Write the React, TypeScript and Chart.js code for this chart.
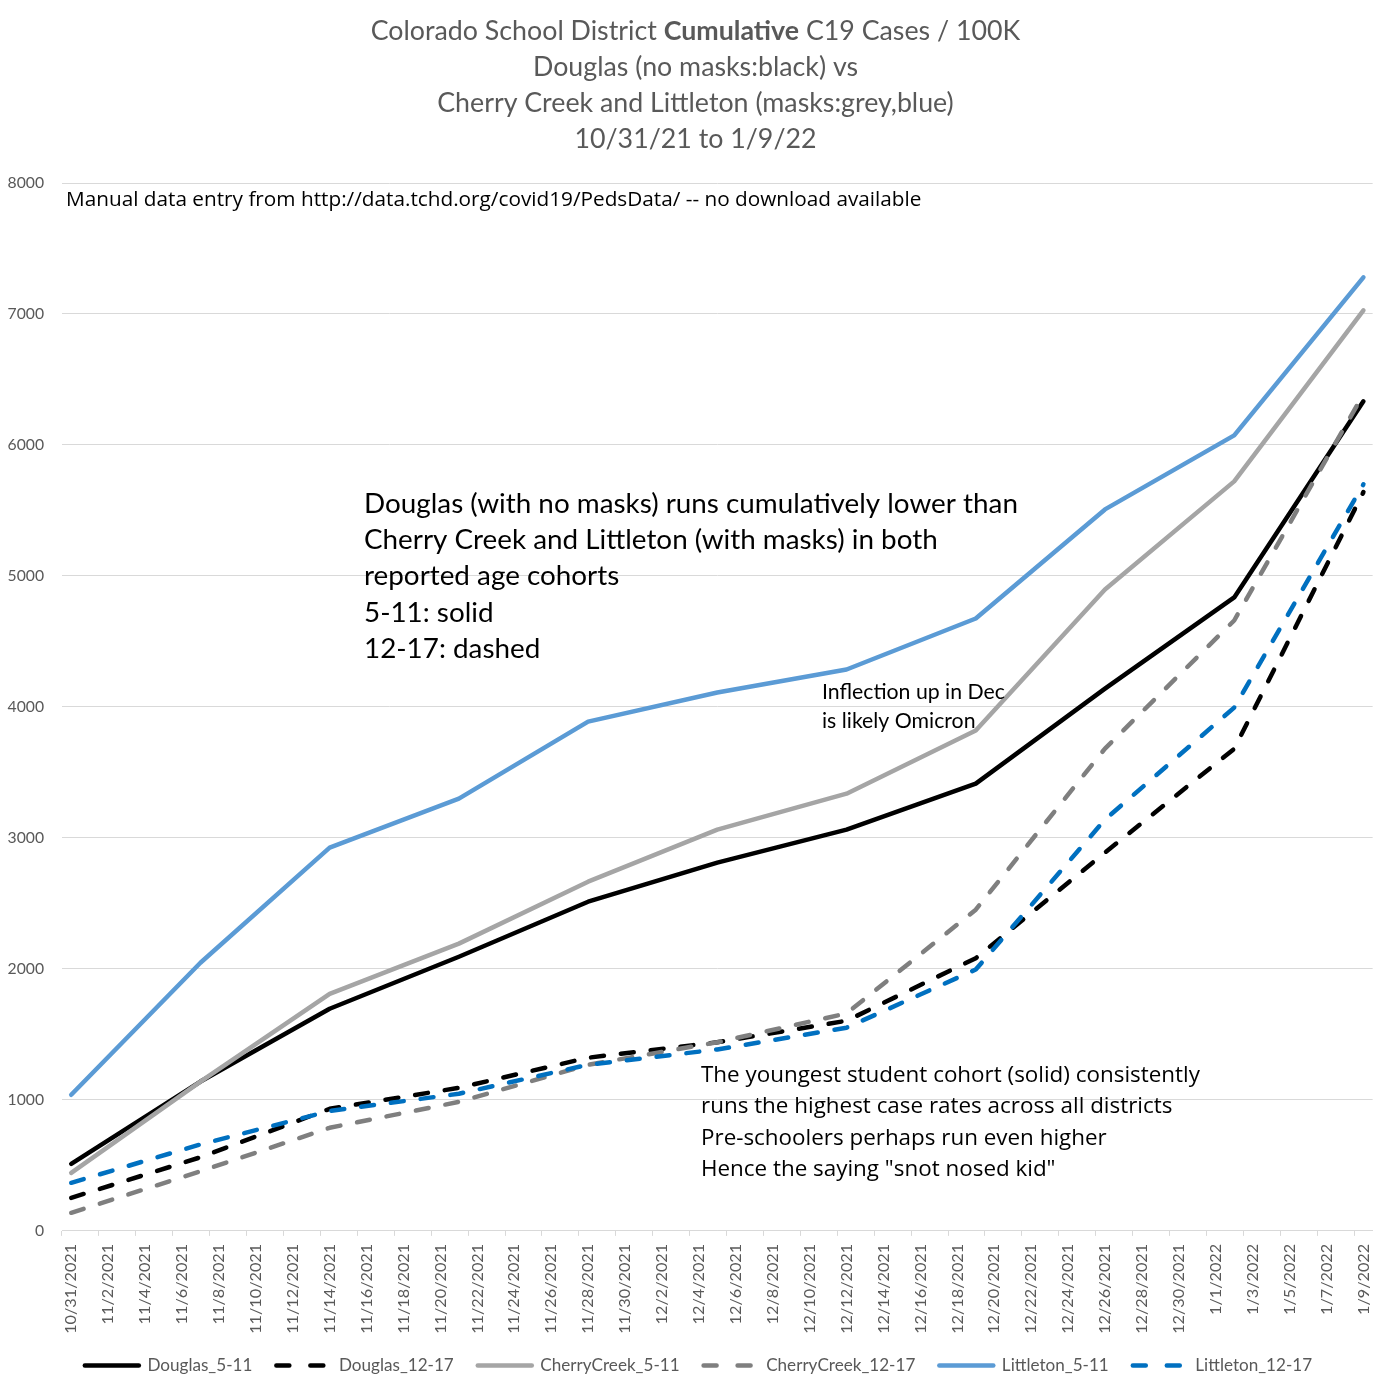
import React, { useEffect, useRef } from 'react';
import { Chart, registerables } from 'chart.js';

Chart.register(...registerables);

// ---------- DATA ----------
const dayLabels: string[] = [
  '10/31/2021',
  '11/1/2021', '11/2/2021', '11/3/2021', '11/4/2021', '11/5/2021', '11/6/2021', '11/7/2021', '11/8/2021', '11/9/2021', '11/10/2021',
  '11/11/2021', '11/12/2021', '11/13/2021', '11/14/2021', '11/15/2021', '11/16/2021', '11/17/2021', '11/18/2021', '11/19/2021', '11/20/2021',
  '11/21/2021', '11/22/2021', '11/23/2021', '11/24/2021', '11/25/2021', '11/26/2021', '11/27/2021', '11/28/2021', '11/29/2021', '11/30/2021',
  '12/1/2021', '12/2/2021', '12/3/2021', '12/4/2021', '12/5/2021', '12/6/2021', '12/7/2021', '12/8/2021', '12/9/2021', '12/10/2021',
  '12/11/2021', '12/12/2021', '12/13/2021', '12/14/2021', '12/15/2021', '12/16/2021', '12/17/2021', '12/18/2021', '12/19/2021', '12/20/2021',
  '12/21/2021', '12/22/2021', '12/23/2021', '12/24/2021', '12/25/2021', '12/26/2021', '12/27/2021', '12/28/2021', '12/29/2021', '12/30/2021',
  '12/31/2021',
  '1/1/2022', '1/2/2022', '1/3/2022', '1/4/2022', '1/5/2022', '1/6/2022', '1/7/2022', '1/8/2022', '1/9/2022',
];

const weekDates: string[] = [
  '10/31/2021', '11/7/2021', '11/14/2021', '11/21/2021', '11/28/2021', '12/5/2021',
  '12/12/2021', '12/19/2021', '12/26/2021', '1/2/2022', '1/9/2022',
];

const douglas511 = [512, 1140, 1696, 2093, 2513, 2811, 3063, 3415, 4140, 4836, 6333];
const douglas1217 = [252, 562, 932, 1092, 1322, 1440, 1604, 2082, 2888, 3680, 5640];
const cherry511 = [443, 1140, 1810, 2193, 2666, 3063, 3338, 3820, 4897, 5722, 7028];
const cherry1217 = [138, 455, 787, 985, 1268, 1440, 1660, 2452, 3682, 4660, 6388];
const littleton511 = [1039, 2047, 2926, 3300, 3888, 4110, 4286, 4675, 5508, 6073, 7280];
const littleton1217 = [367, 660, 915, 1047, 1268, 1385, 1551, 1995, 3140, 3995, 5700];

const seriesNames = [
  'Douglas_5-11', 'Douglas_12-17', 'CherryCreek_5-11',
  'CherryCreek_12-17', 'Littleton_5-11', 'Littleton_12-17',
];

const yMin = 0;
const yMax = 8000;
const yStep = 1000;

const titleParts: [string, boolean][] = [
  ['Colorado School District ', false],
  ['Cumulative', true],
  [' C19 Cases / 100K', false],
];
const titleLines: string[] = [
  'Douglas (no masks:black) vs',
  'Cherry Creek and Littleton (masks:grey,blue)',
  '10/31/21 to 1/9/22',
];
const noteSource = 'Manual data entry from http://data.tchd.org/covid19/PedsData/ -- no download available';
const noteMain: string[] = [
  'Douglas (with no masks) runs cumulatively lower than',
  'Cherry Creek and Littleton (with masks) in both',
  'reported age cohorts',
  '5-11: solid',
  '12-17: dashed',
];
const noteInflection: string[] = ['Inflection up in Dec', 'is likely Omicron'];
const noteYoungest: string[] = [
  'The youngest student cohort (solid) consistently',
  'runs the highest case rates across all districts',
  'Pre-schoolers perhaps run even higher',
  'Hence the saying "snot nosed kid"',
];

// ---------- STYLE ----------
const CAL = 'Lato, "Noto Sans", sans-serif';
const SEG = '"Open Sans", "Noto Sans", sans-serif';
const GREY_TEXT = '#595959';
const GRID = '#D9D9D9';
const colors = ['#000000', '#000000', '#A5A5A5', '#7F7F7F', '#5B9BD5', '#0070C0'];
const dashedFlags = [false, true, false, true, false, true];
const chartDash = [13, 17];
const legendDash = [13, 21];

function measure(text: string, family: string, weight: string, size: number) {
  const c = document.createElement('canvas').getContext('2d')!;
  c.font = `${weight} ${size}px ${family}`;
  return c.measureText(text).width;
}
function fitSize(text: string, family: string, weight: string, target: number) {
  return (100 * target) / measure(text, family, weight, 100);
}

export default function App() {
  const ref = useRef<HTMLCanvasElement | null>(null);

  useEffect(() => {
    document.body.style.margin = '0';
    const canvas = ref.current;
    if (!canvas) return;

    const titleW100 = titleParts.reduce(
      (s, [t, b]) => s + measure(t, CAL, b ? 'bold' : 'normal', 100), 0);
    const titleSize = (100 * 650) / titleW100;
    const mainSize = fitSize(noteMain[0], CAL, 'normal', 654);
    const inflSize = fitSize(noteInflection[0], CAL, 'normal', 183);
    const youngSize = fitSize(noteYoungest[0], SEG, 'normal', 499);
    const sourceSize = fitSize(noteSource, SEG, 'normal', 856);
    const yTickSize = fitSize('8000', CAL, 'normal', 36.5);
    const xTickSize = fitSize('10/31/2021', CAL, 'normal', 90);
    const legendSize = fitSize('Douglas_5-11', CAL, 'normal', 105);

    const seriesValues = [douglas511, douglas1217, cherry511, cherry1217, littleton511, littleton1217];

    const datasets = seriesNames.map((name, i) => ({
      label: name,
      data: weekDates.map((d, k) => ({ x: d, y: seriesValues[i][k] })),
      borderColor: colors[i],
      backgroundColor: colors[i],
      borderWidth: 4.5,
      borderDash: dashedFlags[i] ? chartDash : [],
      borderCapStyle: 'round' as const,
      borderJoinStyle: 'round' as const,
      pointRadius: 0,
      pointHoverRadius: 0,
      tension: 0,
      fill: false,
      order: seriesNames.length - i,
    }));

    const legendShift = {
      id: 'legendShift',
      afterLayout(chart: any) {
        if (chart.legend) {
          chart.legend.left += 11;
          chart.legend.right += 11;
        }
      },
    };

    const textPlugin = {
      id: 'textNotes',
      afterDraw(chart: any) {
        const { ctx, chartArea, width } = chart;
        const L = chartArea.left;
        const T = chartArea.top;
        ctx.save();
        ctx.textBaseline = 'alphabetic';
        ctx.textAlign = 'left';

        // title
        ctx.fillStyle = GREY_TEXT;
        const parts = titleParts.map(([t, b]) => {
          const f = `${b ? 'bold' : 'normal'} ${titleSize}px ${CAL}`;
          ctx.font = f;
          return { t, f, w: ctx.measureText(t).width };
        });
        const total = parts.reduce((s, p) => s + p.w, 0);
        let x = width / 2 - total / 2;
        parts.forEach((p) => {
          ctx.font = p.f;
          ctx.fillText(p.t, x, 40);
          x += p.w;
        });
        ctx.textAlign = 'center';
        ctx.font = `normal ${titleSize}px ${CAL}`;
        titleLines.forEach((t, i) => ctx.fillText(t, width / 2, 76 + 36 * i));

        // notes
        ctx.textAlign = 'left';
        ctx.fillStyle = '#000000';
        ctx.font = `normal ${sourceSize}px ${SEG}`;
        ctx.fillText(noteSource, L + 4, T + 23);

        ctx.font = `normal ${mainSize}px ${CAL}`;
        noteMain.forEach((t, i) => ctx.fillText(t, L + 302, T + 330 + 36.2 * i));

        ctx.font = `normal ${inflSize}px ${CAL}`;
        noteInflection.forEach((t, i) => ctx.fillText(t, L + 760, T + 516 + 29 * i));

        ctx.font = `normal ${youngSize}px ${SEG}`;
        noteYoungest.forEach((t, i) => ctx.fillText(t, L + 639, T + 899 + 31.3 * i));
        ctx.restore();
      },
    };

    const chart = new Chart(canvas, {
      type: 'line',
      data: { labels: dayLabels, datasets: datasets as any },
      plugins: [legendShift, textPlugin],
      options: {
        animation: false,
        responsive: false,
        devicePixelRatio: 1,
        layout: { padding: { top: 183, right: 16, bottom: 6, left: 0 } },
        plugins: {
          title: { display: false },
          tooltip: { enabled: false },
          legend: {
            display: true,
            position: 'bottom',
            labels: {
              usePointStyle: true,
              pointStyle: 'line',
              pointStyleWidth: 54,
              padding: 24,
              color: GREY_TEXT,
              font: { family: CAL, size: legendSize },
              generateLabels: (ch: any) =>
                ch.data.datasets.map((ds: any, i: number) => ({
                  text: ds.label,
                  fillStyle: ds.borderColor,
                  strokeStyle: ds.borderColor,
                  fontColor: GREY_TEXT,
                  lineWidth: 4.5,
                  lineCap: 'round',
                  lineDash: dashedFlags[i] ? legendDash : [],
                  pointStyle: 'line',
                  hidden: false,
                  datasetIndex: i,
                })),
            },
          },
        },
        scales: {
          x: {
            type: 'category',
            offset: true,
            grid: {
              display: true,
              drawOnChartArea: false,
              drawTicks: true,
              tickLength: 5,
              offset: true,
              lineWidth: 1,
              color: (c: any) => (c.index % 2 === 0 ? GRID : 'rgba(0,0,0,0)'),
            },
            border: { display: true, color: GRID, width: 1 },
            ticks: {
              autoSkip: false,
              maxRotation: 90,
              minRotation: 90,
              padding: 8,
              color: GREY_TEXT,
              font: { family: CAL, size: xTickSize },
              callback: (_v: any, i: number) => (i % 2 === 0 ? dayLabels[i] : ''),
            },
            afterFit: (s: any) => {
              s.height = 102;
            },
          },
          y: {
            min: yMin,
            max: yMax,
            ticks: {
              stepSize: yStep,
              padding: 18,
              color: GREY_TEXT,
              font: { family: CAL, size: yTickSize },
              callback: (v: any) => String(v),
            },
            grid: { color: GRID, lineWidth: 1, drawTicks: false },
            border: { display: false },
            afterFit: (s: any) => {
              s.width = 62;
            },
          },
        },
      } as any,
    });

    return () => chart.destroy();
  }, []);

  return (
    <div style={{ width: 1391, height: 1390, background: '#ffffff' }}>
      <canvas ref={ref} width={1391} height={1390} style={{ display: 'block' }} />
    </div>
  );
}
